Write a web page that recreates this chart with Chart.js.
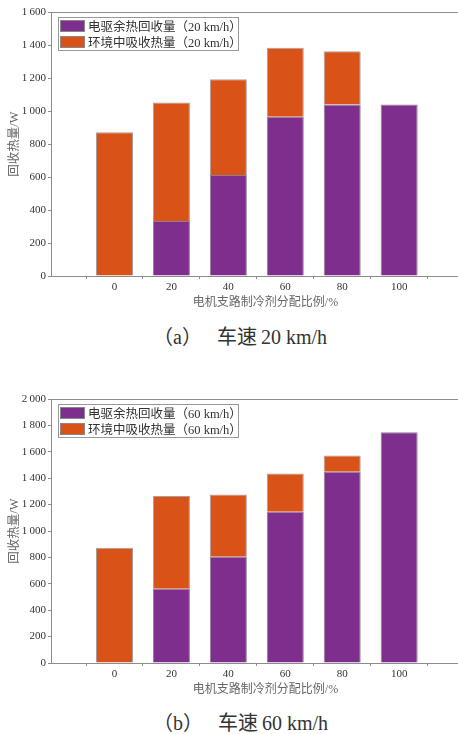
<!DOCTYPE html>
<html>
<head>
<meta charset="utf-8">
<script src="https://cdn.jsdelivr.net/npm/chart.js@4.4.1/dist/chart.umd.min.js"></script>
<style>
  body { margin: 0; width: 458px; height: 734px; overflow: hidden; background: #fff; position: relative;
         font-family: 'Liberation Serif', 'Noto Sans CJK SC', serif; }
  .box { position: absolute; left: 0; width: 480px; height: 310px; }
  .legend { position: absolute; left: 58px; top: 17px; width: 178px; height: 31px; border: 1px solid #999;
            background: #fff; padding: 1px 0 0 1px; box-sizing: content-box; }
  .legend div { height: 16px; line-height: 16px; font-size: 12.5px; color: #333; white-space: nowrap; }
  .legend span { display: inline-block; width: 23px; height: 10px; vertical-align: -1px; margin-right: 3px;
                 border: 1px solid #888; }
  .cap { position: absolute; left: 153px; font-size: 20px; line-height: 20px; color: #333; white-space: nowrap; }
</style>
</head>
<body>
<div class="box" style="top:0"><canvas id="chartA" width="480" height="310"></canvas><div class="legend" id="legA"></div></div>
<div class="cap" style="top:327px">（a）&nbsp;&nbsp;&nbsp;车速&#8201;20 km/h</div>
<div class="box" style="top:387px"><canvas id="chartB" width="480" height="310"></canvas><div class="legend" id="legB"></div></div>
<div class="cap" style="top:713px">（b）&nbsp;&nbsp;&nbsp;车速&#8201;60 km/h</div>
<script>
// refrigerant share of the motor branch (%)
const xTicks = [0, 20, 40, 60, 80, 100];
// 20 km/h
const motorHeat20 = [0, 333, 612, 965, 1040, 1040];
const ambientHeat20 = [871, 719, 580, 419, 322, 0];
// 60 km/h
const motorHeat60 = [0, 562, 805, 1145, 1448, 1749];
const ambientHeat60 = [873, 703, 471, 291, 124, 0];
const yTicksA = [0, 200, 400, 600, 800, 1000, 1200, 1400, 1600];
const yTicksB = [0, 200, 400, 600, 800, 1000, 1200, 1400, 1600, 1800, 2000];

const serif = "'Liberation Serif', 'Noto Sans CJK SC', serif";
const purple = '#7E2F8E';
const orange = '#D95319';
const axisGrey = '#8c8c8c';

// top edge of the axes box
const boxTop = {
    id: 'boxTop',
    afterDraw(chart) {
        const a = chart.chartArea, c = chart.ctx;
        c.save();
        c.strokeStyle = axisGrey;
        c.lineWidth = 1;
        c.beginPath();
        c.moveTo(a.left, a.top + 0.5);
        c.lineTo(a.right, a.top + 0.5);
        c.stroke();
        c.restore();
    }
};

function fmt(v) {
    return v >= 1000 ? String(v).replace(/(\d)(\d{3})$/, '$1\u2009$2') : String(v);
}

const tickGrid = { display: true, drawOnChartArea: false, drawTicks: true, tickLength: 3, color: axisGrey };

function makeChart(id, legId, motor, ambient, speed, yTicks) {
    const ctx = document.getElementById(id).getContext('2d');
    const chart = new Chart(ctx, {
        type: 'bar',
        data: {
            labels: xTicks,
            datasets: [
                {
                    label: '电驱余热回收量（' + speed + ' km/h）',
                    data: motor,
                    backgroundColor: purple,
                    borderColor: 'rgba(70,40,70,0.6)',
                    borderWidth: 1,
                    stack: 's'
                },
                {
                    label: '环境中吸收热量（' + speed + ' km/h）',
                    data: ambient,
                    backgroundColor: orange,
                    borderColor: 'rgba(90,60,60,0.5)',
                    borderWidth: 1,
                    stack: 's'
                }
            ]
        },
        options: {
            responsive: false,
            animation: false,
            devicePixelRatio: 1,
            layout: { padding: { top: 12, right: 0, bottom: 0, left: 0 } },
            categoryPercentage: 1,
            barPercentage: 0.65,
            plugins: { legend: { display: false }, tooltip: { enabled: false } },
            scales: {
                x: {
                    type: 'linear',
                    stacked: true,
                    offset: false,
                    min: -22.3,
                    max: 128.4,
                    afterBuildTicks: axis => { axis.ticks = xTicks.map(v => ({ value: v })); },
                    afterFit: scale => { scale.height = 34; },
                    grid: tickGrid,
                    border: { display: true, color: axisGrey },
                    ticks: { padding: 2, color: '#333', font: { family: serif, size: 11 }, callback: v => String(v) },
                    title: { display: true, text: '电机支路制冷剂分配比例/%', color: '#666', padding: { top: 0, bottom: 0 },
                             font: { family: serif, size: 12 } }
                },
                y: {
                    stacked: true,
                    min: 0,
                    max: yTicks[yTicks.length - 1],
                    afterBuildTicks: axis => { axis.ticks = yTicks.map(v => ({ value: v })); },
                    afterFit: scale => { scale.width = 51; },
                    grid: tickGrid,
                    border: { display: true, color: axisGrey },
                    ticks: { padding: 2, color: '#333', font: { family: serif, size: 11 }, callback: v => fmt(v) },
                    title: { display: true, text: '回收热量/W', color: '#666', padding: { top: 7, bottom: 0 },
                             font: { family: serif, size: 12.5 } }
                }
            }
        },
        plugins: [boxTop]
    });

    const leg = document.getElementById(legId);
    chart.data.datasets.forEach(ds => {
        const row = document.createElement('div');
        const sw = document.createElement('span');
        sw.style.background = ds.backgroundColor;
        row.appendChild(sw);
        row.appendChild(document.createTextNode(ds.label));
        leg.appendChild(row);
    });
    return chart;
}

Promise.all([
    document.fonts.load('11px "Liberation Serif"'),
    document.fonts.load('12px "Noto Sans CJK SC"', '回收热量')
]).catch(() => {}).then(() => {
    makeChart('chartA', 'legA', motorHeat20, ambientHeat20, 20, yTicksA);
    makeChart('chartB', 'legB', motorHeat60, ambientHeat60, 60, yTicksB);
});
</script>
</body>
</html>
